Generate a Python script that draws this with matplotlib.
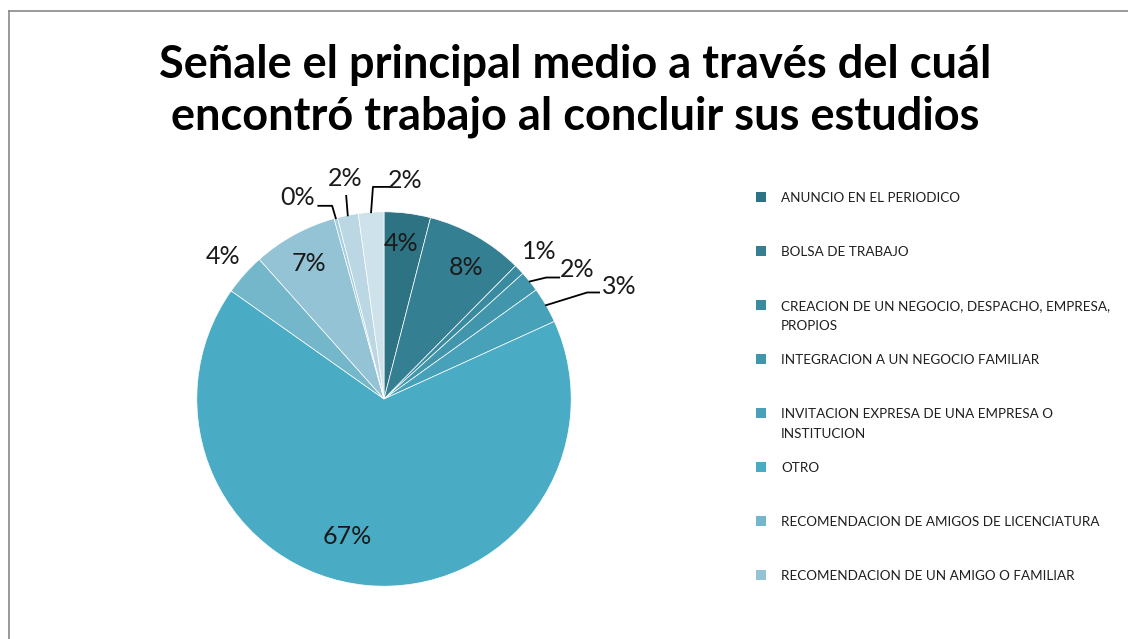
import matplotlib
matplotlib.use("Agg")
import matplotlib.pyplot as plt
import matplotlib.patches as mpatches
import numpy as np

# slice values (percent), clockwise from 12 o'clock
values = [4.0, 8.4, 0.9, 1.8, 3.1, 66.6, 3.6, 7.3, 0.3, 1.8, 2.2]
pct_labels = ["4%", "8%", "1%", "2%", "3%", "67%", "4%", "7%", "0%", "2%", "2%"]
# only the first eight categories are visible in the legend
legend_labels = [
    "ANUNCIO EN EL PERIODICO",
    "BOLSA DE TRABAJO",
    "CREACION DE UN NEGOCIO, DESPACHO, EMPRESA,\nPROPIOS",
    "INTEGRACION A UN NEGOCIO FAMILIAR",
    "INVITACION EXPRESA DE UNA EMPRESA O\nINSTITUCION",
    "OTRO",
    "RECOMENDACION DE AMIGOS DE LICENCIATURA",
    "RECOMENDACION DE UN AMIGO O FAMILIAR",
]
colors = ["#2e7384", "#357f92", "#3a8aa0", "#4196ac", "#46a1b9", "#4aabc5",
          "#74b7cb", "#93c3d4", "#a6cddb", "#bad7e3", "#cde2ea"]
title = "Señale el principal medio a través del cuál\nencontró trabajo al concluir sus estudios"

# label layout in pie-radius units: text centre, and optional leader elbow/end
label_pos = [(0.09, 0.83), (0.436, 0.702), (0.83, 0.79), (1.03, 0.69), (1.255, 0.60),
             (-0.197, -0.734), (-0.862, 0.761), (-0.399, 0.723), (-0.463, 1.074),
             (-0.207, 1.176), (0.112, 1.165)]
leaders = {3: [(0.867, 0.649), (0.936, 0.649)],
           4: [(1.085, 0.569), (1.149, 0.569)],
           8: [(-0.277, 1.032), (-0.351, 1.032)],
           9: [(-0.202, 1.085)],
           10: [(-0.059, 1.133), (0.032, 1.133)]}

W, H = 1128, 639
plt.rcParams['font.family'] = ['Lato', 'DejaVu Sans']
fig = plt.figure(figsize=(W / 100, H / 100), dpi=100)
fig.patch.set_facecolor("white")

# chart frame (only top and left edges fall inside the picture)
fig.add_artist(plt.Line2D([8.5 / W, 8.5 / W], [0, 1 - 10.5 / H], color="#898989", lw=1.2))
fig.add_artist(plt.Line2D([8.5 / W, 1], [1 - 10.5 / H, 1 - 10.5 / H], color="#898989", lw=1.2))

fig.text(575 / W, 1 - 91 / H, title, ha="center", va="center", fontsize=32.5,
         fontweight="bold", linespacing=1.26)

cx, cy, r = 384, 399, 188
ax = fig.add_axes([150 / W, 1 / H, 468 / W, 478 / H])
ax.set_xlim(-234 / r, 234 / r)
ax.set_ylim(-239 / r, 239 / r)
ax.axis("off")

wedges, _ = ax.pie(values, colors=colors, startangle=90, counterclock=False,
                   radius=1.0, wedgeprops=dict(edgecolor="white", linewidth=0.5))

for i, w in enumerate(wedges):
    tx, ty = label_pos[i]
    ax.text(tx, ty, pct_labels[i], ha="center", va="center", fontsize=18,
            color="#1a1a1a", clip_on=False)
    if i in leaders:
        mid = np.deg2rad((w.theta1 + w.theta2) / 2)
        pts = [(np.cos(mid), np.sin(mid))] + leaders[i]
        xs, ys = zip(*pts)
        ax.plot(xs, ys, color="black", lw=1.3, clip_on=False)

# legend drawn row by row so two-line entries keep the fixed spacing
for i, lab in enumerate(legend_labels):
    y = 197 + 54 * i
    fig.add_artist(mpatches.Rectangle((756 / W, 1 - (y + 5) / H), 10 / W, 10 / H,
                                      facecolor=wedges[i].get_facecolor(), edgecolor="none"))
    for k, line in enumerate(lab.split("\n")):
        fig.text(781 / W, 1 - (y + 5 + 20 * k) / H, line, ha="left", va="baseline",
                 fontsize=9.7, color="#1f1f1f")

fig.savefig("out.png", dpi=100)
